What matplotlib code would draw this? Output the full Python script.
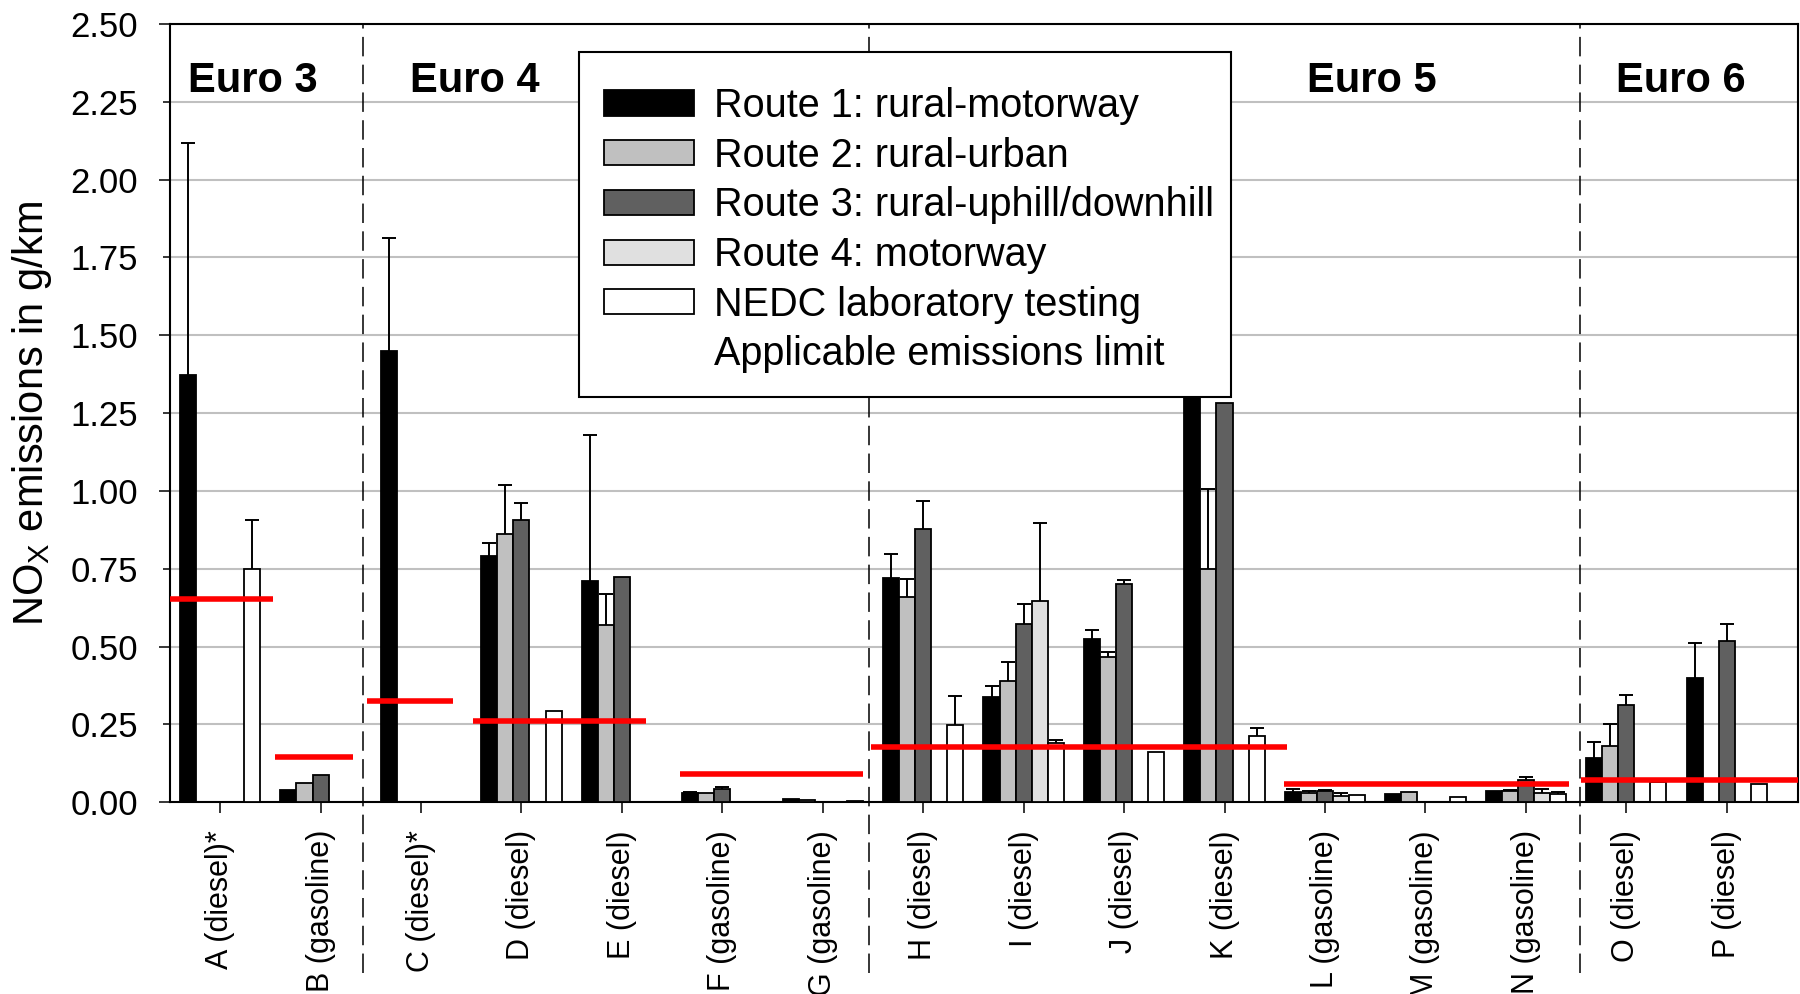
import numpy as np
import matplotlib.pyplot as plt
from matplotlib.patches import Patch, Rectangle
from matplotlib.ticker import MultipleLocator, FormatStrFormatter

plt.rcParams['font.family'] = ['Liberation Sans', 'DejaVu Sans']
plt.rcParams['mathtext.fontset'] = 'custom'
plt.rcParams['mathtext.rm'] = 'Liberation Sans'
plt.rcParams['lines.scale_dashes'] = False

# vehicles tested (x categories)
vehicles = ['A (diesel)*', 'B (gasoline)', 'C (diesel)*', 'D (diesel)', 'E (diesel)',
            'F (gasoline)', 'G (gasoline)', 'H (diesel)', 'I (diesel)', 'J (diesel)',
            'K (diesel)', 'L (gasoline)', 'M (gasoline)', 'N (gasoline)', 'O (diesel)',
            'P (diesel)']

# mean NOx emissions in g/km (0 = not tested)
route1 = [1.372, 0.039, 1.449, 0.791, 0.710, 0.029, 0.012, 0.721, 0.338, 0.523, 1.55, 0.034, 0.027, 0.036, 0.143, 0.400]
route2 = [0, 0.062, 0, 0.861, 0.569, 0.031, 0.006, 0.658, 0.391, 0.466, 0.749, 0.030, 0.033, 0.036, 0.181, 0]
route3 = [0, 0.087, 0, 0.906, 0.722, 0.042, 0, 0.879, 0.572, 0.700, 1.282, 0.036, 0, 0.070, 0.312, 0.517]
route4 = [0, 0, 0, 0, 0, 0, 0, 0, 0.648, 0, 0, 0.019, 0, 0.029, 0, 0]
nedc = [0.748, 0, 0, 0.293, 0, 0, 0.005, 0.249, 0.190, 0.160, 0.214, 0.022, 0.017, 0.027, 0.065, 0.059]

# upper error (max - mean)
route1_err = [0.746, 0, 0.362, 0.043, 0.469, 0.005, 0, 0.077, 0.037, 0.030, 0, 0.007, 0, 0, 0.051, 0.110]
route2_err = [0, 0, 0, 0.158, 0.101, 0, 0, 0.060, 0.059, 0.018, 0.257, 0.006, 0, 0.003, 0.070, 0]
route3_err = [0, 0, 0, 0.054, 0, 0.008, 0, 0.088, 0.064, 0.015, 0, 0.003, 0, 0.010, 0.034, 0.055]
route4_err = [0, 0, 0, 0, 0, 0, 0, 0, 0.249, 0, 0, 0.010, 0, 0.013, 0, 0]
nedc_err = [0.160, 0, 0, 0, 0, 0, 0, 0.091, 0.010, 0, 0.023, 0, 0, 0.006, 0, 0]

series_labels = ['Route 1: rural-motorway', 'Route 2: rural-urban',
                 'Route 3: rural-uphill/downhill', 'Route 4: motorway',
                 'NEDC laboratory testing']
series_colors = ['#000000', '#c0c0c0', '#606060', '#e0e0e0', '#ffffff']

# applicable emission limits and the vehicles they cover
limit_values = [0.654, 0.146, 0.326, 0.261, 0.090, 0.178, 0.058, 0.073]
limit_spans = [(-0.5, 0.53), (0.55, 1.32), (1.46, 2.32), (2.52, 4.24),
               (4.58, 6.40), (6.48, 10.62), (10.59, 13.43), (13.55, 15.71)]

norm_labels = ['Euro 3', 'Euro 4', 'Euro 5', 'Euro 6']
norm_label_x = [0.33, 2.54, 11.47, 14.54]
norm_borders = [1.425, 6.46, 13.54]

values = [route1, route2, route3, route4, nedc]
errors = [route1_err, route2_err, route3_err, route4_err, nedc_err]

fig = plt.figure(figsize=(18, 9.94), dpi=100)
ax = fig.add_axes([0.0944, 0.1929, 0.9045, 0.783])

x = np.arange(len(vehicles))
w = 0.16
for k in range(5):
    vals = np.array(values[k], dtype=float)
    errs = np.array(errors[k], dtype=float)
    pos = x + (k - 2) * w
    keep = vals > 0
    ax.bar(pos[keep], vals[keep], width=w, color=series_colors[k],
           edgecolor='black', linewidth=1.3, zorder=3)
    e = errs > 0
    if e.any():
        _, caps, _ = ax.errorbar(pos[e], vals[e], yerr=[np.zeros(e.sum()), errs[e]],
                                 fmt='none', ecolor='black', elinewidth=1.4,
                                 capsize=4.8, capthick=1.4, zorder=3.5)
        caps[0].set_visible(False)

for val, (x0, x1) in zip(limit_values, limit_spans):
    ax.plot([x0, x1], [val, val], color='#ff0000', lw=4, solid_capstyle='butt',
            zorder=4, clip_on=False)

for xb in norm_borders:
    ax.axvline(xb, ymin=-0.22, ymax=1, color='black', lw=1.1,
               linestyle=(0, (14, 6)), clip_on=False, zorder=2)

for lab, xl in zip(norm_labels, norm_label_x):
    ax.text(xl, 2.28, lab, ha='center', va='baseline', fontsize=30,
            fontweight='bold', zorder=5)

ax.set_xlim(-0.5, 15.71)
ax.set_ylim(0, 2.5)

ax.set_xticks(x)
ax.set_xticklabels(vehicles, rotation=90, fontsize=22, va='top')
ax.tick_params(axis='x', direction='out', length=8, width=1.1, pad=12)

ax.yaxis.set_major_locator(MultipleLocator(0.5))
ax.yaxis.set_minor_locator(MultipleLocator(0.25))
ax.yaxis.set_major_formatter(FormatStrFormatter('%.2f'))
ax.yaxis.set_minor_formatter(FormatStrFormatter('%.2f'))
ax.tick_params(axis='y', which='major', direction='out', length=8, width=1.1,
               pad=15, labelsize=25)
ax.tick_params(axis='y', which='minor', direction='out', length=5, width=1.1,
               pad=18, labelsize=25)

ax.set_axisbelow(True)
ax.yaxis.grid(True, which='both', color='#c0c0c0', lw=1.5)

for sp in ax.spines.values():
    sp.set_linewidth(1.5)

ax.set_ylabel(r'NO$_\mathregular{X}$ emissions in g/km', fontsize=30)
ax.yaxis.set_label_coords(-0.071, 0.5)

# legend box drawn separately so its padding can differ per side
ax.add_patch(Rectangle((0.2512, 0.5207), 0.4005, 0.4433, transform=ax.transAxes,
                       facecolor='white', edgecolor='black', linewidth=1.5,
                       zorder=5.5))

handles = [Patch(facecolor=c, edgecolor='black', linewidth=1.3) for c in series_colors]
handles.append(Patch(facecolor='none', edgecolor='none'))
labels = series_labels + ['Applicable emissions limit']
leg = ax.legend(handles, labels, loc='upper left', bbox_to_anchor=(0.2666, 0.919),
                borderaxespad=0, borderpad=0, fontsize=28.5, frameon=False,
                handlelength=2.27, handleheight=0.6, handletextpad=0.52,
                labelspacing=0.295)
leg.set_zorder(6)

fig.savefig('out.png', dpi=100)
